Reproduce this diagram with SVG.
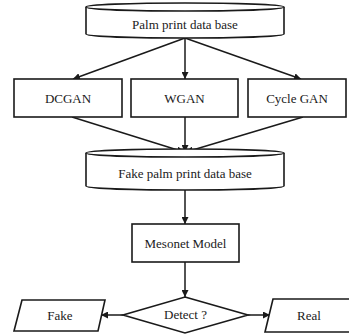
<svg xmlns="http://www.w3.org/2000/svg" width="349" height="335" viewBox="0 0 349 335">
<style>
.s{fill:#fff;stroke:#1a1a1a;stroke-width:1.6}
.t{font-size:13px;fill:#1a1a1a;text-anchor:middle}
.c{fill:none;stroke:#1a1a1a;stroke-width:1.5}
</style>
<defs>
<marker id="a" viewBox="0 0 10 10" refX="10" refY="5" markerWidth="7" markerHeight="7" orient="auto" markerUnits="userSpaceOnUse">
<path d="M0,0 L10,5 L0,10 z" fill="#1a1a1a"/>
</marker>
</defs>
<g id="connectors">
<line class="c" x1="185" y1="38" x2="73" y2="79" marker-end="url(#a)"/>
<line class="c" x1="185" y1="38" x2="185" y2="79" marker-end="url(#a)"/>
<line class="c" x1="185" y1="38" x2="301" y2="79" marker-end="url(#a)"/>
<line class="c" x1="72" y1="117" x2="184" y2="152" marker-end="url(#a)"/>
<line class="c" x1="185" y1="117" x2="185" y2="152" marker-end="url(#a)"/>
<line class="c" x1="303" y1="117" x2="186" y2="152" marker-end="url(#a)"/>
<line class="c" x1="185" y1="190" x2="185" y2="224" marker-end="url(#a)"/>
<line class="c" x1="185" y1="262" x2="185" y2="297" marker-end="url(#a)"/>
<line class="c" x1="123" y1="315" x2="101" y2="315" marker-end="url(#a)"/>
<line class="c" x1="248" y1="315" x2="270" y2="315" marker-end="url(#a)"/>
</g>
<g font-family="Liberation Serif, Times New Roman, serif">
<g id="palm-db">
<path class="s" d="M86,7 V34 A99,4 0 0 0 284,34 V7"/>
<ellipse class="s" cx="185" cy="7" rx="99" ry="4"/>
<text class="t" x="185" y="29">Palm print data base</text>
</g>
<g id="dcgan">
<rect class="s" x="14" y="79" width="108" height="38"/>
<text class="t" x="68" y="103">DCGAN</text>
</g>
<g id="wgan">
<rect class="s" x="131" y="79" width="107" height="38"/>
<text class="t" x="184.5" y="103">WGAN</text>
</g>
<g id="cyclegan">
<rect class="s" x="248" y="79" width="98" height="38"/>
<text class="t" x="297" y="103">Cycle GAN</text>
</g>
<g id="fake-db">
<path class="s" d="M86,153 V186 A99,4 0 0 0 284,186 V153"/>
<ellipse class="s" cx="185" cy="153" rx="99" ry="4"/>
<text class="t" x="185" y="178">Fake palm print data base</text>
</g>
<g id="mesonet">
<rect class="s" x="132" y="224" width="107" height="38"/>
<text class="t" x="185.5" y="248">Mesonet Model</text>
</g>
<g id="detect">
<polygon class="s" points="185,297 248,315 185,333 123,315"/>
<text class="t" x="185.5" y="319">Detect ?</text>
</g>
<g id="fake">
<polygon class="s" points="22,300 105,300 98,331 14,331"/>
<text class="t" x="60" y="320">Fake</text>
</g>
<g id="real">
<polygon class="s" points="273,299 357,299 350,332 265,332"/>
<text class="t" x="309" y="320">Real</text>
</g>
</g>
</svg>
